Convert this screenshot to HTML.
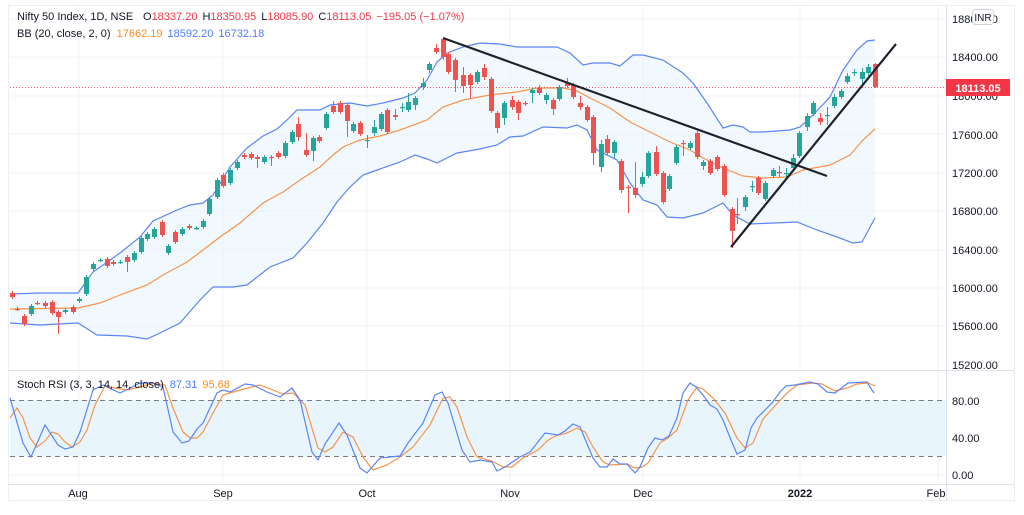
<!DOCTYPE html>
<html><head><meta charset="utf-8"><style>
body{margin:0;background:#fff;width:1024px;height:515px;overflow:hidden}
svg{display:block;font-family:"Liberation Sans",sans-serif}
</style></head><body>
<svg id="s" width="1024" height="515" xmlns="http://www.w3.org/2000/svg">
<rect x="0" y="0" width="1024" height="515" fill="#fff"/>
<rect x="8.5" y="5.5" width="1006" height="495" fill="none" stroke="#eceef2"/>
<g stroke="#f0f3fa" stroke-width="1" id="grid">
<line x1="10" y1="19" x2="946" y2="19"/><line x1="10" y1="57" x2="946" y2="57"/><line x1="10" y1="96" x2="946" y2="96"/><line x1="10" y1="134" x2="946" y2="134"/><line x1="10" y1="173" x2="946" y2="173"/><line x1="10" y1="211" x2="946" y2="211"/><line x1="10" y1="250" x2="946" y2="250"/><line x1="10" y1="288" x2="946" y2="288"/><line x1="10" y1="326" x2="946" y2="326"/><line x1="10" y1="437" x2="946" y2="437"/><line x1="10" y1="475" x2="946" y2="475"/>
<line x1="79" y1="6" x2="79" y2="484"/><line x1="223" y1="6" x2="223" y2="484"/><line x1="367" y1="6" x2="367" y2="484"/><line x1="510" y1="6" x2="510" y2="484"/><line x1="643" y1="6" x2="643" y2="484"/><line x1="800" y1="6" x2="800" y2="484"/><line x1="938" y1="6" x2="938" y2="484"/>
</g>
<line x1="946.5" y1="6" x2="946.5" y2="500" stroke="#e0e3eb"/>
<line x1="8" y1="370.5" x2="1014" y2="370.5" stroke="#e0e3eb"/>
<line x1="8" y1="484.5" x2="1014" y2="484.5" stroke="#e0e3eb"/>
<g id="bands"></g>
<line x1="10" y1="87.5" x2="946" y2="87.5" stroke="#f23645" stroke-width="1" stroke-dasharray="1,2" opacity="0.8"/>
<g id="candles"></g>
<line x1="443" y1="38" x2="827" y2="176" stroke="#1e222d" stroke-width="2.2"/>
<line x1="731" y1="247" x2="896" y2="44" stroke="#1e222d" stroke-width="2.2"/>
<!-- stoch -->
<rect x="10" y="400" width="936" height="56" fill="#e3f2fd" opacity="0.8"/>
<line x1="10" y1="400.5" x2="946" y2="400.5" stroke="#787b86" stroke-dasharray="5,4"/>
<line x1="10" y1="456.5" x2="946" y2="456.5" stroke="#787b86" stroke-dasharray="5,4"/>
<g id="stoch"></g>
<!-- text -->
<g font-size="11" fill="#131722">
<text x="17" y="20">Nifty 50 Index, 1D, NSE</text>
<text x="143" y="20"><tspan fill="#131722">O</tspan><tspan fill="#f23645">18337.20</tspan><tspan dx="5">H</tspan><tspan fill="#f23645">18350.95</tspan><tspan dx="5">L</tspan><tspan fill="#f23645">18085.90</tspan><tspan dx="5">C</tspan><tspan fill="#f23645">18113.05</tspan><tspan dx="5" fill="#f23645">−195.05 (−1.07%)</tspan></text>
<text x="17" y="37">BB (20, close, 2, 0) <tspan fill="#ff8b1f" dx="3">17662.19</tspan><tspan fill="#4e7cff" dx="5">18592.20</tspan><tspan fill="#4e7cff" dx="5">16732.18</tspan></text>
<text x="17" y="388">Stoch RSI (3, 3, 14, 14, close) <tspan fill="#4e7cff" dx="3">87.31</tspan><tspan fill="#ff8b1f" dx="5">95.68</tspan></text>
</g>
<g font-size="11" fill="#131722">
<text x="952" y="23">18800.00</text><text x="952" y="61">18400.00</text><text x="952" y="100">18000.00</text><text x="952" y="139">17600.00</text><text x="952" y="177">17200.00</text><text x="952" y="215">16800.00</text><text x="952" y="254">16400.00</text><text x="952" y="292">16000.00</text><text x="952" y="330">15600.00</text><text x="952" y="369">15200.00</text>
<text x="952" y="405">80.00</text><text x="952" y="442">40.00</text><text x="952" y="479">0.00</text>
<text x="78" y="497" text-anchor="middle">Aug</text><text x="223" y="497" text-anchor="middle">Sep</text><text x="367" y="497" text-anchor="middle">Oct</text><text x="510" y="497" text-anchor="middle">Nov</text><text x="643" y="497" text-anchor="middle">Dec</text><text x="800" y="497" text-anchor="middle" font-weight="bold">2022</text><text x="936" y="497" text-anchor="middle">Feb</text>
</g>
<rect x="972.5" y="9.5" width="21" height="15" rx="3" fill="#fff" stroke="#d1d4dc"/>
<text x="983" y="21" font-size="10" text-anchor="middle" fill="#131722">INR</text>
<rect x="946" y="79" width="64" height="17" fill="#f23645"/>
<text x="978" y="92" font-size="11" font-weight="bold" fill="#fff" text-anchor="middle">18113.05</text>
</svg>
<script>
var NS="http://www.w3.org/2000/svg";
function el(p,t,a){var e=document.createElementNS(NS,t);for(var k in a)e.setAttribute(k,a[k]);p.appendChild(e);return e;}
function pts(a){return a.map(function(p){return p.join(",")}).join(" ");}
var up=[[10,294],[40,293],[78,293],[93,272],[120,253],[140,237],[153,221],[177,210],[190,205],[203,203],[213,195],[230,167],[247,148],[263,136],[277,129],[287,120],[297,110],[320,110],[330,105],[350,103],[367,106],[383,103],[403,98],[415,93],[427,80],[437,62],[447,53],[463,47],[480,43],[500,44],[517,47],[557,47],[570,53],[583,65],[593,63],[610,63],[620,66],[633,55],[643,55],[663,60],[683,73],[693,83],[707,103],[723,128],[733,125],[743,127],[750,132],[763,132],[790,130],[800,127],[813,115],[830,97],[843,70],[857,50],[867,41],[875,40]];
var lo=[[10,323],[40,325],[78,323],[97,335],[127,336],[147,339],[160,333],[180,323],[200,300],[213,287],[233,287],[247,285],[270,267],[293,258],[307,243],[323,223],[337,202],[350,187],[363,175],[380,169],[400,162],[415,155],[427,159],[437,163],[457,153],[480,149],[497,145],[510,137],[523,136],[543,127],[567,128],[577,125],[587,130],[597,150],[617,160],[630,183],[643,200],[657,205],[667,217],[683,218],[703,213],[723,203],[733,215],[750,224],[797,222],[817,230],[837,237],[853,243],[862,242],[875,218]];
var mid=[[10,309],[78,308],[100,303],[120,295],[147,285],[163,275],[187,262],[203,250],[220,237],[240,223],[263,203],[283,192],[300,180],[320,167],[333,155],[343,147],[360,140],[380,136],[400,130],[427,120],[443,107],[463,100],[490,95],[517,92],[537,88],[563,88],[577,91],[590,98],[610,108],[630,122],[650,132],[670,142],[690,150],[703,158],[723,168],[743,176],[763,178],[787,177],[803,170],[830,165],[850,155],[863,140],[875,129]];
var b=document.getElementById("bands");
el(b,"polygon",{points:pts(up.concat(lo.slice().reverse())),fill:"#e3f2fd",opacity:"0.45"});
el(b,"polyline",{points:pts(up),fill:"none",stroke:"#5b84f5","stroke-width":"1.2"});
el(b,"polyline",{points:pts(lo),fill:"none",stroke:"#5b84f5","stroke-width":"1.2"});
el(b,"polyline",{points:pts(mid),fill:"none",stroke:"#f7934a","stroke-width":"1.2"});
// candles: x, open y, close y (top/bottom), color, wick top, wick bottom
var C=[[12,293,297,'r'],[17,309,309,'r'],[24,316,324,'r'],[31,306,314,'g'],[37,303,303,'r'],[45,303,306,'r'],[52,302,313,'r'],[58,312,317,'r',0,334],[65,310,312,'g'],[73,307,312,'r'],[79,299,301,'g'],[86,277,294,'g'],[93,264,269,'g'],[100,260,260,'g'],[107,259,266,'r'],[113,262,264,'r'],[120,262,262,'g'],[127,257,262,'r',0,272],[134,253,260,'g'],[141,238,252,'g'],[147,234,239,'g'],[154,229,237,'g'],[162,222,235,'r'],[168,246,253,'g'],[175,232,242,'r'],[182,229,234,'g'],[189,226,228,'r'],[196,228,228,'g'],[203,221,227,'g'],[209,199,214,'g'],[217,180,197,'g'],[223,175,186,'r'],[230,170,183,'g'],[237,162,168,'g'],[244,155,157,'r'],[251,154,158,'r'],[257,157,159,'r',0,168],[264,157,162,'g'],[271,157,158,'r',0,166],[278,153,157,'r'],[285,143,156,'g'],[292,132,142,'g'],[298,124,137,'r',117,141],[306,150,155,'r',133,157],[313,138,151,'g',0,161],[319,137,141,'r'],[326,114,128,'g'],[333,106,112,'r',101,114],[340,103,112,'r'],[347,105,121,'r',0,137],[353,124,131,'g'],[360,123,134,'r'],[367,140,140,'g',135,148],[374,127,133,'g',120,136],[381,114,129,'g'],[387,110,132,'r'],[395,115,117,'r',109,120],[402,107,107,'g',103,112],[408,102,110,'g',93,112],[415,98,105,'g',0,110],[423,83,87,'g',78,90],[429,64,70,'g',62,73],[436,48,52,'r',44,54],[443,39,57,'r',38,60],[448,54,72,'r'],[455,60,80,'r',0,92],[463,75,86,'r',67,93],[470,75,85,'r',0,99],[477,72,82,'g'],[484,68,77,'r',64,80],[491,79,111,'r'],[497,113,128,'r',0,133],[504,103,118,'g',0,125],[512,100,107,'r',96,110],[518,102,113,'r',0,120],[525,103,104,'r'],[532,90,93,'g',0,103],[539,88,93,'r',85,95],[546,95,100,'g',0,104],[553,100,109,'r',0,115],[559,87,99,'g'],[567,83,86,'r',78,88],[573,85,97,'r'],[580,103,107,'r',96,110],[587,107,120,'r'],[593,117,153,'r',0,165],[601,144,167,'g',140,172],[607,139,153,'r',135,155],[614,142,153,'g',140,158],[621,161,190,'r',0,193],[628,187,187,'r',0,213],[635,188,195,'r',162,198],[642,177,184,'g',172,187],[648,153,176,'g'],[656,152,174,'r',146,176],[663,173,202,'r'],[669,176,189,'g'],[676,147,163,'g'],[683,143,143,'r',140,156],[690,143,148,'g'],[697,133,157,'r'],[703,162,166,'g',160,170],[710,161,173,'r'],[717,157,169,'r',155,171],[724,166,195,'r'],[732,209,231,'r',0,248],[737,214,214,'r',198,224],[745,197,207,'g',195,211],[752,186,186,'g',181,192],[758,178,193,'r'],[765,183,199,'g'],[773,170,176,'g'],[779,172,172,'r',166,177],[786,173,173,'g',168,178],[793,158,168,'g',154,170],[799,133,156,'g'],[807,116,127,'g',113,131],[813,103,114,'g'],[820,118,122,'r',113,125],[827,115,115,'g',107,125],[834,97,106,'g',94,108],[841,91,97,'g',89,99],[847,76,82,'g',73,84],[854,72,72,'g',69,76],[862,72,79,'g',68,84],[868,67,73,'g',64,76],[875,64,87,'r',63,88]];
var cg=document.getElementById("candles");
C.forEach(function(c){var col=c[3]=='r'?'#ef5350':'#26a69a';var t=Math.min(c[1],c[2]),bt=Math.max(c[1],c[2]);
var wt=c[4]||t-2,wb=c[5]||bt+2;
el(cg,"line",{x1:c[0]+0.5,x2:c[0]+0.5,y1:wt,y2:wb,stroke:col,"stroke-width":"1"});
el(cg,"rect",{x:c[0]-2,y:t,width:5,height:Math.max(1.2,bt-t),fill:col});});
var blue=[[10,398],[23,443],[31,457],[45,425],[58,445],[65,449],[73,447],[80,432],[93,390],[103,385],[120,393],[140,383],[153,383],[163,387],[173,432],[182,443],[189,441],[197,429],[203,423],[217,393],[223,390],[230,392],[245,384],[253,385],[267,392],[280,397],[292,388],[300,400],[312,452],[318,460],[325,444],[339,423],[347,435],[360,468],[367,473],[380,458],[400,456],[408,443],[423,423],[435,395],[442,392],[448,403],[462,450],[470,462],[480,460],[492,462],[497,471],[505,467],[520,457],[530,452],[545,433],[558,435],[565,431],[573,424],[580,427],[593,458],[600,467],[607,467],[613,459],[620,464],[627,464],[635,473],[640,467],[648,448],[655,438],[662,440],[669,436],[677,418],[683,393],[690,383],[696,387],[703,395],[710,405],[717,409],[723,420],[731,440],[737,454],[745,450],[751,428],[757,418],[765,410],[772,403],[780,392],[786,386],[795,385],[810,382],[818,384],[827,392],[835,393],[848,383],[867,382],[870,387],[874,393]];
var orange=[[10,418],[17,408],[23,418],[30,438],[37,447],[45,441],[52,432],[58,434],[65,442],[72,447],[80,442],[87,430],[95,405],[105,386],[115,388],[127,390],[140,387],[153,383],[165,385],[173,408],[183,432],[190,438],[197,438],[203,432],[213,413],[223,395],[240,390],[260,385],[273,390],[283,394],[293,393],[305,405],[318,448],[325,452],[333,447],[343,432],[353,437],[363,457],[373,470],[387,465],[400,457],[413,447],[430,425],[443,398],[450,397],[457,407],[467,437],[477,457],[492,461],[503,467],[512,467],[523,458],[538,450],[547,441],[555,436],[567,433],[577,428],[585,432],[593,447],[603,462],[610,465],[627,464],[635,468],[642,467],[648,463],[660,443],[668,438],[677,430],[688,400],[697,387],[703,389],[713,398],[725,413],[737,438],[745,448],[753,443],[763,419],[773,408],[787,393],[797,385],[813,383],[822,384],[835,391],[847,388],[857,384],[868,383],[875,386]];
var sg=document.getElementById("stoch");
el(sg,"polyline",{points:pts(orange),fill:"none",stroke:"#f7934a","stroke-width":"1.2"});
el(sg,"polyline",{points:pts(blue),fill:"none",stroke:"#5b84f5","stroke-width":"1.2"});
</script>
</body></html>
